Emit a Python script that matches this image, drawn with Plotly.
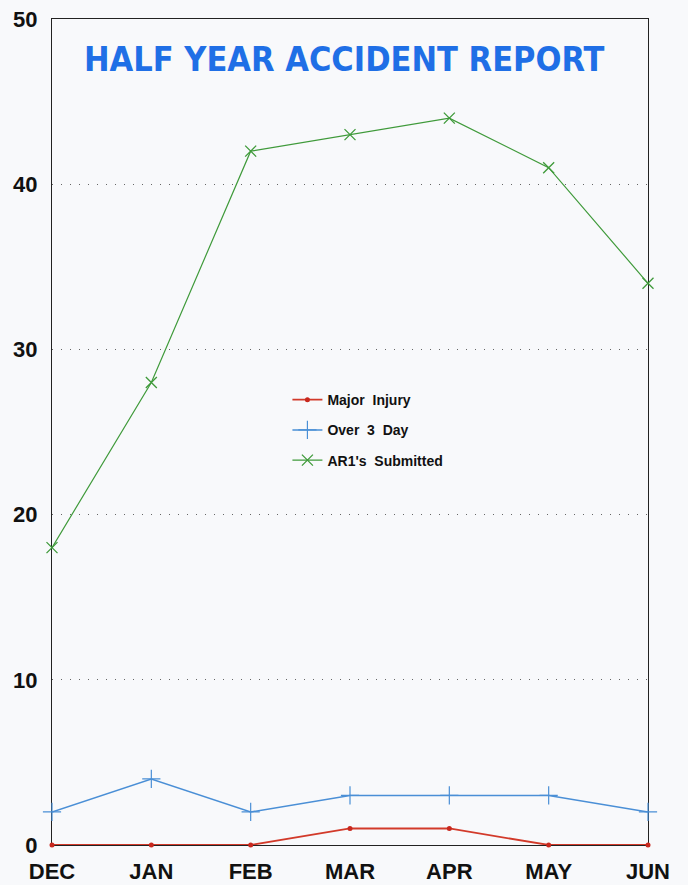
import plotly.graph_objects as go

months = ["DEC", "JAN", "FEB", "MAR", "APR", "MAY", "JUN"]
major_injury = [0, 0, 0, 1, 1, 0, 0]
over_3_day = [2, 4, 2, 3, 3, 3, 2]
ar1_submitted = [18, 28, 42, 43, 44, 41, 34]
y_ticks = [0, 10, 20, 30, 40, 50]

fig = go.Figure()
fig.add_trace(go.Scatter(
    x=months, y=major_injury, name="<b>Major  Injury</b>", mode="lines+markers",
    legendgroup="a", cliponaxis=False,
    line=dict(color="#d23a2a", width=1.8),
    marker=dict(symbol="circle", size=5, color="#c8281e"),
))
fig.add_trace(go.Scatter(
    x=months, y=over_3_day, name="<b>Over  3  Day</b>", mode="lines+markers",
    legendgroup="b", cliponaxis=False,
    line=dict(color="#4a8fd6", width=1.5),
    marker=dict(symbol="cross-thin", size=13, line=dict(color="#4a8fd6", width=1.2)),
))
fig.add_trace(go.Scatter(
    x=months, y=ar1_submitted, name="<b>AR1's  Submitted</b>", mode="lines+markers",
    legendgroup="c", cliponaxis=False,
    line=dict(color="#3f9a3a", width=1.2),
    marker=dict(symbol="x-thin", size=11, line=dict(color="#3f9a3a", width=1.3)),
))

fig.update_layout(
    width=688, height=885,
    margin=dict(l=52, r=40, t=19, b=40, autoexpand=False),
    paper_bgcolor="#f8f9fb", plot_bgcolor="#f8f9fb",
    font=dict(family="Liberation Sans, Arial", color="#111"),
    showlegend=True,
    legend=dict(
        x=0.395, y=0.558, xanchor="left", yanchor="top",
        bgcolor="rgba(0,0,0,0)", traceorder="grouped",
        font=dict(size=14, family="Liberation Sans, Arial", color="#111"),
        itemwidth=30, tracegroupgap=9,
    ),
    annotations=[dict(
        text="<b>HALF YEAR ACCIDENT REPORT</b>", x=0.49, y=0.952, xref="paper", yref="paper",
        xanchor="center", yanchor="middle", showarrow=False,
        font=dict(family="DejaVu Sans Condensed, DejaVu Sans", size=34, color="#1f6fe6"),
    )],
)
fig.update_xaxes(
    type="category", categoryorder="array", categoryarray=months,
    range=[0, 6], showgrid=False, zeroline=False, automargin=False,
    showline=True, linecolor="#222", linewidth=1.2, mirror=True, layer="below traces",
    ticks="", ticklabelstandoff=6,
    tickfont=dict(size=22, family="Liberation Sans, Arial", color="#111", weight="bold"),
)
fig.update_yaxes(
    range=[0, 50], tickvals=y_ticks, ticktext=[str(v) for v in y_ticks],
    showgrid=True, gridcolor="#666", griddash="1px,8px", gridwidth=1.2,
    zeroline=False, automargin=False, layer="below traces",
    showline=True, linecolor="#222", linewidth=1.2, mirror=True,
    ticks="", ticklabelstandoff=9,
    tickfont=dict(size=22, family="Liberation Sans, Arial", color="#111", weight="bold"),
)

fig.write_html("out.html")
